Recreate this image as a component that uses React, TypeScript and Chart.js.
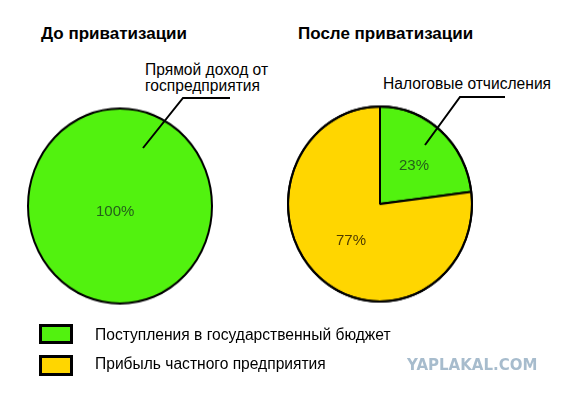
import React, { useEffect, useRef } from "react";
import { Chart, registerables } from "chart.js";

Chart.register(...registerables);

const categories = ["Поступления в государственный бюджет", "Прибыль частного предприятия"];
const beforeValues = [100, 0];
const afterValues = [23, 77];
const sliceColors = ["#52f20f", "#ffd600"];
const labelColors = ["#24601a", "#4f3c00"];
const titles = ["До приватизации", "После приватизации"];
const calloutBefore = ["Прямой доход от", "госпредприятия"];
const calloutAfter = ["Налоговые отчисления"];
const watermark = "YAPLAKAL.COM";

const FONT = '"Liberation Sans", Arial, sans-serif';

const outlinePlugin = {
  id: "outline",
  afterDatasetsDraw(chart: any) {
    const meta = chart.getDatasetMeta(0);
    const arc = meta.data.find((a: any) => a.circumference > 0) || meta.data[0];
    if (!arc) return;
    const p = arc.getProps(["x", "y", "outerRadius"], true);
    const ctx = chart.ctx;
    ctx.save();
    ctx.beginPath();
    ctx.arc(p.x, p.y, p.outerRadius, 0, Math.PI * 2);
    ctx.lineWidth = 2;
    ctx.strokeStyle = "#000";
    ctx.stroke();
    ctx.restore();
  },
};

function Pie({ values, border, left, top }: { values: number[]; border: number; left: number; top: number }) {
  const ref = useRef<HTMLCanvasElement>(null);
  useEffect(() => {
    if (!ref.current) return;
    const chart = new Chart(ref.current, {
      type: "pie",
      data: {
        labels: categories,
        datasets: [
          {
            data: values,
            backgroundColor: sliceColors,
            borderColor: "#000",
            borderWidth: border,
            radius: 92,
          } as any,
        ],
      },
      options: {
        animation: false,
        responsive: false,
        devicePixelRatio: 1,
        layout: { padding: 0 },
        plugins: { legend: { display: false }, tooltip: { enabled: false } },
      },
      plugins: [outlinePlugin],
    });
    return () => chart.destroy();
  }, []);
  return (
    <canvas
      ref={ref}
      width={200}
      height={200}
      style={{ position: "absolute", left, top, width: 200, height: 212 }}
    />
  );
}

const txt = (left: number, top: number, size: number, extra: any = {}) => ({
  position: "absolute" as const,
  left,
  top,
  fontFamily: FONT,
  fontSize: size,
  lineHeight: "16px",
  whiteSpace: "nowrap" as const,
  color: "#000",
  ...extra,
});

export default function App() {
  return (
    <div style={{ position: "absolute", left: 0, top: 0, width: 571, height: 395, background: "#fff", overflow: "hidden" }}>
      <Pie values={beforeValues} border={0} left={20} top={99.5} />
      <Pie values={afterValues} border={2} left={280} top={98} />

      <div style={txt(41, 25, 17, { fontWeight: "bold", lineHeight: "17px" })}>{titles[0]}</div>
      <div style={txt(298, 25, 17, { fontWeight: "bold", lineHeight: "17px" })}>{titles[1]}</div>

      <div style={txt(145, 61.7, 15.6)}>
        {calloutBefore.map((l, i) => (
          <div key={i}>{l}</div>
        ))}
      </div>
      <div style={txt(383, 75.7, 15.6)}>{calloutAfter[0]}</div>

      <svg style={{ position: "absolute", left: 0, top: 0 }} width={571} height={395}>
        <polyline points="143,148 183,98 230,98" fill="none" stroke="#000" strokeWidth={2} />
        <polyline points="425,145 460,97 505,97" fill="none" stroke="#000" strokeWidth={2} />
      </svg>

      <div style={txt(96, 202.6, 15, { color: labelColors[0] })}>{beforeValues[0]}%</div>
      <div style={txt(399, 156.6, 15, { color: labelColors[0] })}>{afterValues[0]}%</div>
      <div style={txt(336, 231.6, 15, { color: labelColors[1] })}>{afterValues[1]}%</div>

      <div style={{ position: "absolute", left: 39, top: 324, width: 34, height: 20, boxSizing: "border-box", border: "3px solid #000", background: sliceColors[0] }} />
      <div style={{ position: "absolute", left: 39, top: 355, width: 34, height: 21, boxSizing: "border-box", border: "3px solid #000", background: sliceColors[1] }} />
      <div style={txt(95, 326.7, 15.6)}>{categories[0]}</div>
      <div style={txt(95, 356, 15.6)}>{categories[1]}</div>

      <div style={txt(407, 358.3, 15, { fontFamily: '"DejaVu Sans", sans-serif', fontWeight: "bold", color: "#a7bccd", lineHeight: "15px" })}>{watermark}</div>
    </div>
  );
}
